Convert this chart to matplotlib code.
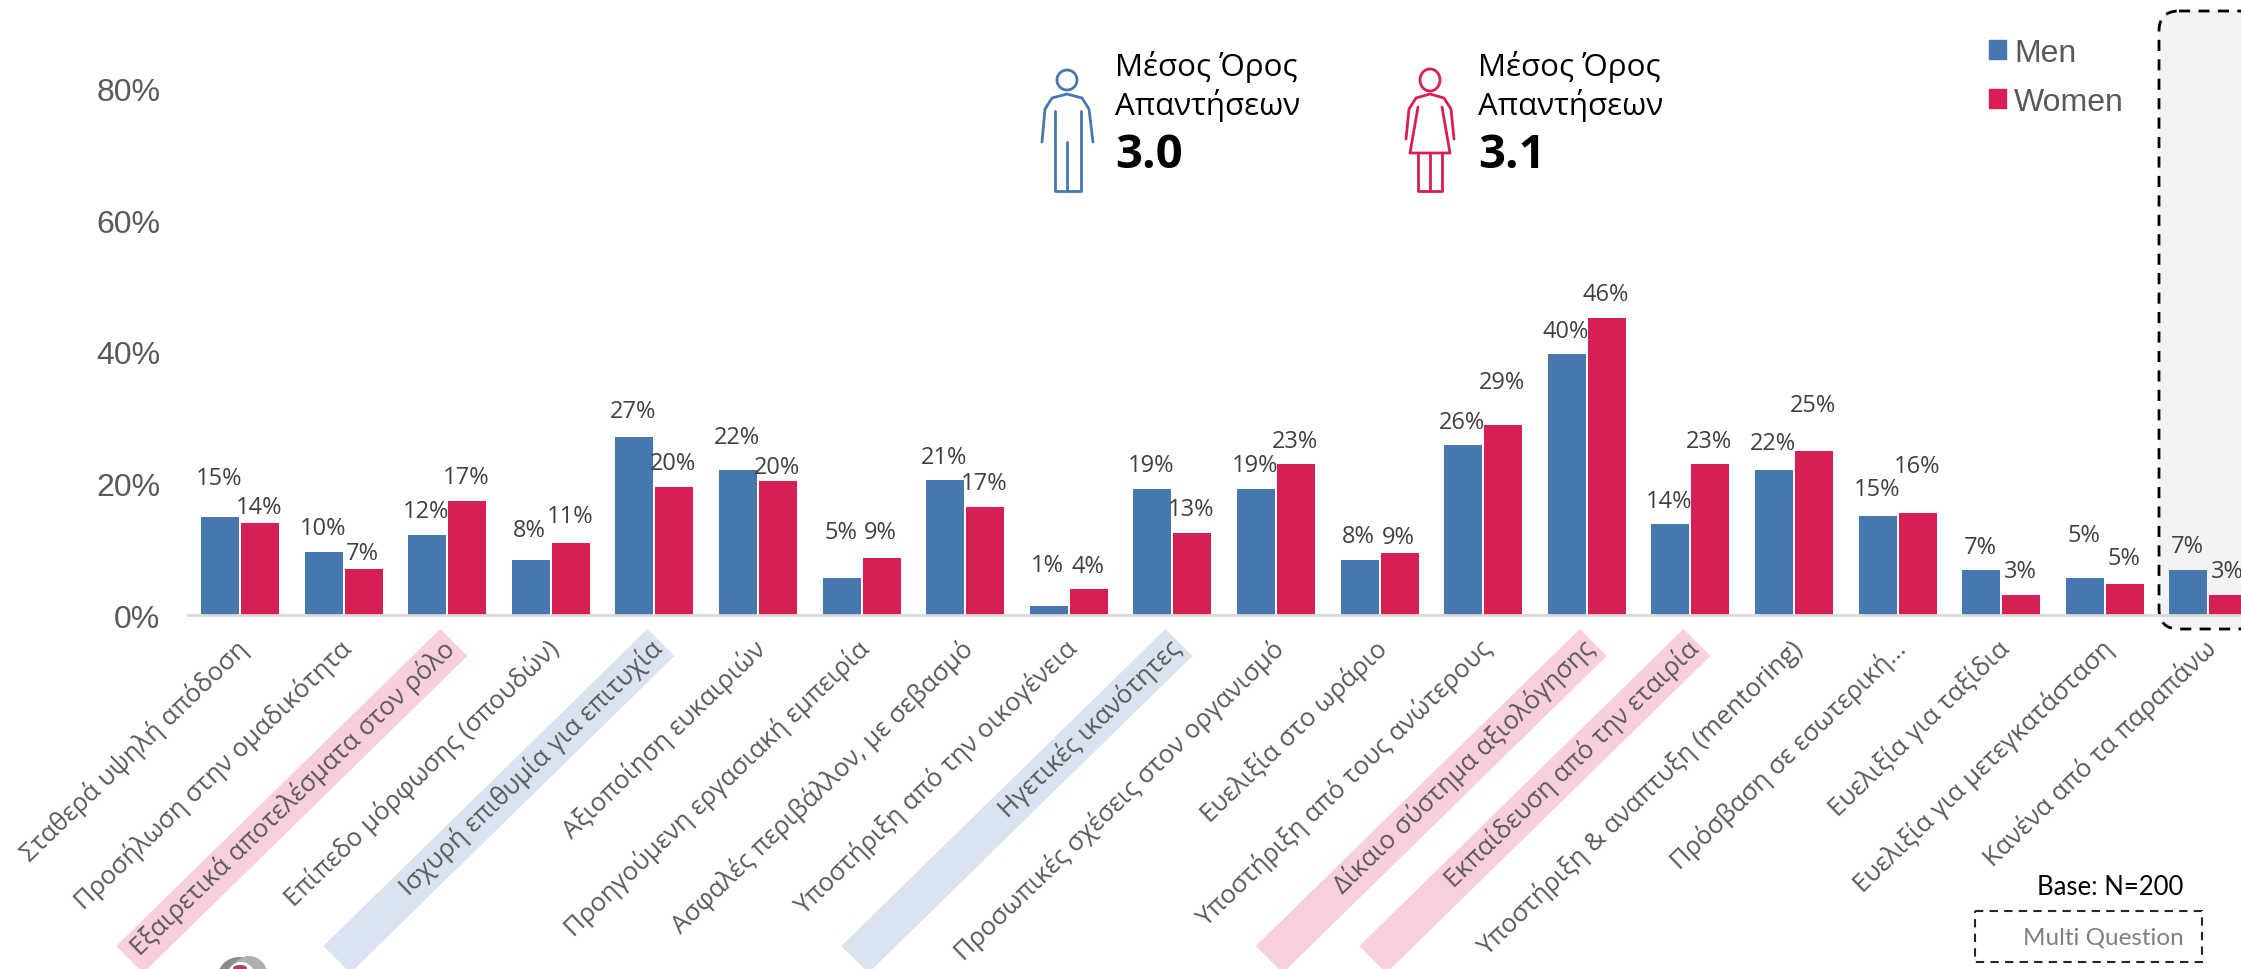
import numpy as np
import matplotlib
matplotlib.use("Agg")
import matplotlib.pyplot as plt
from matplotlib.patches import Polygon, Rectangle, FancyBboxPatch, Ellipse
from matplotlib.transforms import ScaledTranslation

W, H = 2241, 970
BLUE = "#4677AF"
RED = "#D61F52"
PINK = "#F9CFDB"
LIGHTBLUE = "#DAE3F0"

categories = [
    "Σταθερά υψηλή απόδοση",
    "Προσήλωση στην ομαδικότητα",
    "Εξαιρετικά αποτελέσματα στον ρόλο",
    "Επίπεδο μόρφωσης (σπουδών)",
    "Ισχυρή επιθυμία για επιτυχία",
    "Αξιοποίηση ευκαιριών",
    "Προηγούμενη εργασιακή εμπειρία",
    "Ασφαλές περιβάλλον, με σεβασμό",
    "Υποστήριξη από την οικογένεια",
    "Ηγετικές ικανότητες",
    "Προσωπικές σχέσεις στον οργανισμό",
    "Ευελιξία στο ωράριο",
    "Υποστήριξη από τους ανώτερους",
    "Δίκαιο σύστημα αξιολόγησης",
    "Εκπαίδευση από την εταιρία",
    "Υποστήριξη & αναπτυξη (mentoring)",
    "Πρόσβαση σε εσωτερική…",
    "Ευελιξία για ταξίδια",
    "Ευελιξία για μετεγκατάσταση",
    "Κανένα από τα παραπάνω",
]
men = [14.9, 9.6, 12.2, 8.3, 27, 22, 5.6, 20.6, 1.4, 19.2, 19.2, 8.3, 25.8, 39.7, 13.8, 22, 15, 6.8, 5.6, 6.8]
women = [14, 7, 17.3, 11, 19.5, 20.4, 8.6, 16.5, 4, 12.5, 22.9, 9.5, 28.9, 45.2, 22.9, 25, 15.5, 3.1, 4.7, 3.1]
men_labels = [15, 10, 12, 8, 27, 22, 5, 21, 1, 19, 19, 8, 26, 40, 14, 22, 15, 7, 5, 7]
women_labels = [14, 7, 17, 11, 20, 20, 9, 17, 4, 13, 23, 9, 29, 46, 23, 25, 16, 3, 5, 3]

# hand placed label heights above the bars, in pixels
men_off = [39, 24, 24, 30, 26, 33, 46, 23, 41, 24, 24, 24, 23, 23, 23, 27, 27, 23, 43, 24]
women_off = [16, 16, 24, 27, 24, 14, 26, 24, 23, 24, 23, 16, 43, 24, 23, 46, 47, 24, 26, 24]

# which labels have a coloured band behind them
band_colors = {2: PINK, 4: LIGHTBLUE, 9: LIGHTBLUE, 13: PINK, 14: PINK}

STEP = 103.6
X0 = 240
BASE_Y = 616
PX_PER_PCT = 6.575


def group_px(i):
    return X0 + STEP * i


fig = plt.figure(figsize=(W / 100, H / 100), dpi=100, facecolor="white")

# background layer in pixel coordinates (y down), everything decorative goes here
bg = fig.add_axes([0, 0, 1, 1], zorder=0)
bg.set_xlim(0, W)
bg.set_ylim(H, 0)
bg.axis("off")

ax = fig.add_axes([188 / W, (H - BASE_Y) / H, 1 - 188 / W, BASE_Y / H], zorder=1)
ax.patch.set_alpha(0)

x = np.arange(len(categories))
bar_w = 38 / STEP
shift = 20 / STEP
ax.bar(x - shift, men, bar_w, color=BLUE, clip_on=False)
ax.bar(x + shift, women, bar_w, color=RED, clip_on=False)

ax.set_xlim((188 - X0) / STEP, (W - X0) / STEP)
ax.set_ylim(0, BASE_Y / PX_PER_PCT)

for i in x:
    ax.annotate(f"{men_labels[i]}%", (i - shift, men[i]), xytext=(-1, men_off[i]),
                textcoords="offset pixels", ha="center", va="center",
                fontsize=17, color="#404040", family="Open Sans", annotation_clip=False)
    ax.annotate(f"{women_labels[i]}%", (i + shift, women[i]), xytext=(-1, women_off[i]),
                textcoords="offset pixels", ha="center", va="center",
                fontsize=17, color="#404040", family="Open Sans", annotation_clip=False)

ax.set_yticks([0, 20, 40, 60, 80])
ax.set_yticklabels(["0%", "20%", "40%", "60%", "80%"], fontsize=23, color="#595959", family="Liberation Sans")
ax.tick_params(axis="y", length=0, pad=20)
ax.set_xticks(x)
ax.set_xticklabels(categories, rotation=44, ha="right", va="top", rotation_mode="anchor",
                   fontsize=18.5, color="#595959", family="Open Sans")
ax.tick_params(axis="x", length=0, pad=14)
shift_tr = ScaledTranslation(-5 / 100, 0, fig.dpi_scale_trans)
for lab in ax.get_xticklabels():
    lab.set_transform(lab.get_transform() + shift_tr)

for s in ["top", "left", "right"]:
    ax.spines[s].set_visible(False)
ax.spines["bottom"].set_color("#D9D9D9")
ax.spines["bottom"].set_linewidth(2)

# legend
handles = [Rectangle((0, 0), 1, 1, color=BLUE), Rectangle((0, 0), 1, 1, color=RED)]
fig.legend(handles, ["Men", "Women"], loc="upper left", bbox_to_anchor=(1960 / W, 1 - 10 / H),
           frameon=False, labelcolor="#595959", handlelength=0.55, handleheight=0.55,
           handletextpad=0.25, labelspacing=0.6, prop={"family": "Liberation Sans", "size": 23})

# coloured bands behind highlighted labels
for i, col in band_colors.items():
    tip = group_px(i) - 7
    bg.add_patch(Polygon([(tip, 630), (tip + 27, 657), (tip + 27 - 324, 974), (tip - 324, 947)],
                         closed=True, fc=col, ec="none"))

# dashed box around the last group
bg.add_patch(FancyBboxPatch((2159 + 20, 12 + 20), 200, 598 - 20, boxstyle="round,pad=20,rounding_size=20",
                            fc="#F2F2F2", ec="black", ls=(0, (4, 3)), lw=2))


def line(pts, col):
    xs, ys = zip(*pts)
    bg.plot(xs, ys, color=col, lw=2, solid_capstyle="round", solid_joinstyle="round")


# man icon
bg.add_patch(Ellipse((1067, 81), 20, 20, fc="none", ec=BLUE, lw=2))
line([(1042, 143), (1045, 110), (1052, 99), (1067, 95), (1082, 99), (1089, 110), (1093, 143)], BLUE)
line([(1055, 112), (1055, 192), (1081, 192), (1081, 112)], BLUE)
line([(1067, 143), (1067, 192)], BLUE)

# woman icon
bg.add_patch(Ellipse((1430, 81), 20, 22, fc="none", ec=RED, lw=2))
line([(1406, 140), (1409, 110), (1416, 99), (1430, 95), (1444, 99), (1451, 110), (1454, 140)], RED)
line([(1418, 108), (1410, 154), (1450, 154), (1442, 108)], RED)
line([(1418, 154), (1418, 192), (1442, 192), (1442, 154)], RED)
line([(1430, 154), (1430, 192)], RED)

for tx, val in [(1115, "3.0"), (1478, "3.1")]:
    bg.text(tx, 67, "Μέσος Όρος", fontsize=22.5, family="Open Sans", color="black", ha="left", va="center")
    bg.text(tx, 105, "Απαντήσεων", fontsize=22.5, family="Open Sans", color="black", ha="left", va="center")
    bg.text(tx, 155, val, fontsize=34, family="Open Sans", weight="bold", color="black", ha="left", va="center")

bg.text(2183, 888, "Base: N=200", fontsize=18.5, family="Lato", color="black", ha="right", va="center")
bg.add_patch(Rectangle((1975, 912), 227, 51, fc="none", ec="#262626", ls=(0, (4, 3)), lw=1.5))
bg.text(2184, 938, "Multi Question", fontsize=17.5, family="Lato", color="#7F7F7F", ha="right", va="center")

# bit of a logo cut off at the bottom
bg.add_patch(Ellipse((239, 980), 44, 44, fc="#8C8C8C", ec="none"))
bg.add_patch(Ellipse((249, 978), 38, 42, fc="#B0B0B0", ec="none"))
bg.add_patch(Ellipse((241, 978), 28, 30, fc="white", ec="none"))
bg.add_patch(Ellipse((240, 969), 14, 6, fc="#C2335F", ec="none"))

fig.savefig("out.png", dpi=100)
